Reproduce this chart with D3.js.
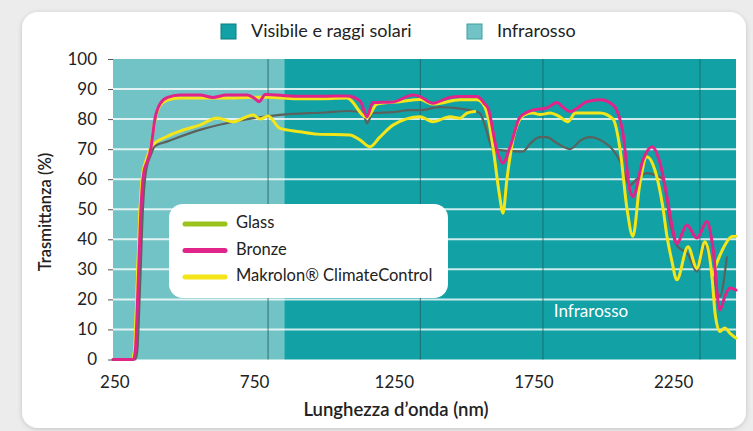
<!DOCTYPE html>
<html>
<head>
<meta charset="utf-8">
<script src="https://cdn.jsdelivr.net/npm/d3@7"></script>
<style>
  body { margin: 0; background: #ececec; }
  svg { display: block; }
  .tick text { font-family: Lato, "Open Sans", sans-serif; fill: #222; }
</style>
</head>
<body>
<div id="chart"></div>
<script>
// wavelength (nm), transmittance (%)
var bronze = [
  [245, 0], [318, 0], [325, 3], [335, 25], [345, 50], [355, 62], [368, 66], [380, 70],
  [395, 80], [413, 85], [440, 87.2], [485, 88], [556, 88], [603, 87.2], [650, 88],
  [725, 88], [750, 87], [768, 85.8], [790, 88.2], [900, 87.6], [1000, 87.6], [1082, 87.7],
  [1130, 86], [1154, 80.8], [1175, 85.5], [1247, 85.7], [1319, 88], [1344, 87.5],
  [1390, 85.3], [1450, 87.2], [1487, 87.5], [1548, 87.5], [1576, 85], [1587, 83.7],
  [1619, 69.7], [1641, 65.4], [1666, 70.7], [1702, 80.7], [1748, 83], [1798, 83.7],
  [1834, 85.5], [1855, 84], [1881, 82.5], [1942, 85.8], [1988, 86.4], [2035, 84.7],
  [2070, 75.4], [2095, 56.4], [2106, 54.2], [2142, 66.4], [2174, 70.8], [2203, 65.4],
  [2228, 54.2], [2249, 43], [2263, 38.5], [2299, 44.8], [2335, 40.4], [2371, 45.9],
  [2392, 37.5], [2417, 16.5], [2435, 20.9], [2453, 23.8], [2475, 23.1]
];

var climate = [
  [245, 0], [315, 0], [322, 3], [332, 25], [342, 50], [352, 62], [366, 66], [378, 69.7],
  [395, 79.5], [413, 84.5], [440, 86.3], [485, 87], [556, 87], [650, 87], [725, 87.2],
  [800, 87.3], [900, 86.8], [1000, 86.8], [1082, 87], [1154, 80.5], [1190, 85],
  [1272, 85.8], [1344, 86.5], [1390, 85], [1487, 86.4], [1548, 86.4], [1576, 84],
  [1587, 80.7], [1605, 70.8], [1628, 55], [1641, 48.7], [1655, 60], [1684, 76],
  [1719, 81.5], [1748, 82], [1773, 81.5], [1810, 82], [1840, 81], [1873, 79.1],
  [1900, 82], [1988, 82], [2035, 80], [2060, 70], [2085, 50], [2106, 41], [2130, 58],
  [2156, 67.5], [2185, 63], [2213, 50.8], [2228, 40.9], [2245, 33], [2263, 26.5],
  [2303, 37.5], [2335, 30.4], [2364, 39.2], [2389, 27.6], [2400, 15.5], [2417, 9.3],
  [2435, 10.5], [2453, 8.8], [2475, 7.1]
];

var climateLow = [
  [245, 0], [315, 0], [322, 3], [332, 25], [342, 50], [352, 62], [366, 67], [383, 71],
  [438, 74.2], [500, 76.5], [556, 78], [617, 80.4], [674, 79.1], [746, 81.4], [771, 80],
  [800, 81], [843, 76.9], [914, 75.8], [975, 75], [1093, 74.7], [1130, 73], [1165, 70.8],
  [1200, 74], [1247, 78], [1344, 80.8], [1390, 79.1], [1451, 80.8], [1487, 80.3],
  [1512, 82], [1540, 82.5],
  [1545, null],
  [2389, 27.6], [2410, 33], [2435, 38], [2460, 40.9], [2475, 41]
];

var glass = [
  [245, 0], [325, 0], [332, 3], [342, 25], [352, 50], [362, 62], [380, 68], [395, 71],
  [438, 72.5], [556, 76.4], [710, 79.7], [843, 81.4], [1000, 82.2], [1093, 82.7],
  [1140, 82], [1154, 78.6], [1175, 82], [1247, 82.3], [1308, 83], [1344, 83],
  [1415, 84], [1487, 83.5], [1523, 83], [1558, 82], [1576, 78], [1605, 70],
  [1630, 69.7], [1712, 69.2], [1740, 72], [1773, 74], [1798, 74], [1834, 72],
  [1881, 70], [1920, 73], [1952, 74], [2000, 72.5], [2035, 69.7], [2060, 66],
  [2095, 58], [2120, 60], [2156, 62], [2185, 61.4], [2213, 60], [2240, 45],
  [2263, 38], [2303, 35], [2335, 29.2], [2364, 38], [2392, 28], [2417, 21], [2442, 34]
];

var xTicks = [250, 750, 1250, 1750, 2250];
var yTicks = [0, 10, 20, 30, 40, 50, 60, 70, 80, 90, 100];
var gridY = [10, 20, 30, 40, 50, 60, 70, 80, 90];
var gridX = [800, 1345, 1784, 2346];
var bandEdges = [245, 858, 2475];
var topLegend = ["Visibile e raggi solari", "Infrarosso"];
var seriesNames = ["Glass", "Bronze", "Makrolon\u00ae ClimateControl"];

var W = 753, H = 431;
var svg = d3.select("#chart").append("svg")
  .attr("width", W)
  .attr("height", H);

var defs = svg.append("defs");
var shadow = defs.append("filter").attr("id", "shadow")
  .attr("x", "-5%").attr("y", "-5%").attr("width", "110%").attr("height", "110%");
shadow.append("feDropShadow")
  .attr("dx", 0).attr("dy", 1).attr("stdDeviation", 2.5)
  .attr("flood-color", "#000").attr("flood-opacity", 0.18);

// card
svg.append("rect")
  .attr("x", 22).attr("y", 12)
  .attr("width", 724).attr("height", 416)
  .attr("rx", 16)
  .attr("fill", "#fff")
  .attr("filter", "url(#shadow)");

var x = d3.scaleLinear().domain([245, 2475]).range([113, 736]);
var y = d3.scaleLinear().domain([0, 100]).range([359.5, 59]);

var plot = svg.append("g");

// background bands
var bandColors = ["#72c3c5", "#12a2a6"];
plot.selectAll("rect.band")
  .data(d3.pairs(bandEdges))
  .enter().append("rect")
  .attr("class", "band")
  .attr("x", function(d) { return x(d[0]); })
  .attr("width", function(d) { return x(d[1]) - x(d[0]); })
  .attr("y", y(100))
  .attr("height", y(0) - y(100))
  .attr("fill", function(d, i) { return bandColors[i]; });

// horizontal gridlines
plot.selectAll("line.gy")
  .data(gridY)
  .enter().append("line")
  .attr("x1", x(245)).attr("x2", x(2475))
  .attr("y1", function(d) { return y(d); })
  .attr("y2", function(d) { return y(d); })
  .attr("stroke", "#ffffff")
  .attr("stroke-opacity", 0.8)
  .attr("stroke-width", 2);

// vertical lines
plot.selectAll("line.gx")
  .data(gridX)
  .enter().append("line")
  .attr("x1", function(d) { return x(d); })
  .attr("x2", function(d) { return x(d); })
  .attr("y1", y(100)).attr("y2", y(0))
  .attr("stroke", "#1f5f62")
  .attr("stroke-opacity", 0.8)
  .attr("stroke-width", 1);

plot.append("text")
  .attr("x", x(1956)).attr("y", y(15.7))
  .attr("text-anchor", "middle")
  .attr("dominant-baseline", "middle")
  .attr("font-family", "Lato, sans-serif")
  .attr("font-size", 17)
  .attr("fill", "#fff")
  .text("Infrarosso");

// curves
var line = d3.line()
  .defined(function(d) { return d[1] != null; })
  .x(function(d) { return x(d[0]); })
  .y(function(d) { return y(d[1]); })
  .curve(d3.curveMonotoneX);

var curves = [
  {data: glass, color: "#5b615c", width: 2.2},
  {data: climateLow, color: "#f4e51a", width: 3},
  {data: climate, color: "#f4e51a", width: 3},
  {data: bronze, color: "#e0248a", width: 3}
];

plot.selectAll("path.curve")
  .data(curves)
  .enter().append("path")
  .attr("class", "curve")
  .attr("d", function(d) { return line(d.data); })
  .attr("fill", "none")
  .attr("stroke", function(d) { return d.color; })
  .attr("stroke-width", function(d) { return d.width; })
  .attr("stroke-linejoin", "round")
  .attr("stroke-linecap", "round");

// axes
var leftAxis = d3.axisLeft(y).tickValues(yTicks).tickSize(5).tickPadding(11);
var gy = svg.append("g")
  .attr("transform", "translate(" + x(245) + ",0)")
  .call(leftAxis);
gy.select(".domain").remove();
gy.selectAll(".tick line").attr("stroke", "#555");
gy.selectAll(".tick text").attr("font-size", 17);

var bottomAxis = d3.axisBottom(x).tickValues(xTicks).tickFormat(d3.format("d"))
  .tickSize(0).tickPadding(16);
var gx = svg.append("g")
  .attr("transform", "translate(0," + y(0) + ")")
  .call(bottomAxis);
gx.select(".domain").remove();
gx.selectAll(".tick text").attr("font-size", 17);

// axis titles
svg.append("text")
  .attr("transform", "translate(47," + 212 + ") rotate(-90)")
  .attr("text-anchor", "middle")
  .attr("dominant-baseline", "middle")
  .attr("font-family", "Lato, sans-serif")
  .attr("font-size", 16.5)
  .attr("font-weight", 600)
  .attr("fill", "#222")
  .text("Trasmittanza (%)");

svg.append("text")
  .attr("x", 396).attr("y", 411)
  .attr("text-anchor", "middle")
  .attr("dominant-baseline", "middle")
  .attr("font-family", "Lato, sans-serif")
  .attr("font-size", 18.5)
  .attr("font-weight", 600)
  .attr("fill", "#222")
  .text("Lunghezza d\u2019onda (nm)");

// top legend
var topLegendX = [221, 467];
var topFill = ["#12a2a6", "#72c3c5"];
var topStroke = ["#0b7d80", "#3d9fa2"];
var tl = svg.selectAll("g.tl")
  .data(topLegend)
  .enter().append("g")
  .attr("transform", function(d, i) { return "translate(" + topLegendX[i] + ",24)"; });
tl.append("rect")
  .attr("width", 15).attr("height", 15)
  .attr("fill", function(d, i) { return topFill[i]; })
  .attr("stroke", function(d, i) { return topStroke[i]; })
  .attr("stroke-width", 1);
tl.append("text")
  .attr("x", 30).attr("y", 8)
  .attr("dominant-baseline", "middle")
  .attr("font-family", "Lato, sans-serif")
  .attr("font-size", 18)
  .attr("fill", "#222")
  .text(function(d) { return d; });

// series legend box
svg.append("rect")
  .attr("x", 169).attr("y", 204)
  .attr("width", 279).attr("height", 94)
  .attr("rx", 14)
  .attr("fill", "#fff");

var legendColors = ["#9cc31c", "#e0248a", "#f4e51a"];
var lg = svg.selectAll("g.lg")
  .data(seriesNames)
  .enter().append("g")
  .attr("transform", function(d, i) { return "translate(185," + (224 + i * 26.5) + ")"; });
lg.append("line")
  .attr("x1", 0).attr("x2", 40)
  .attr("stroke", function(d, i) { return legendColors[i]; })
  .attr("stroke-width", 5)
  .attr("stroke-linecap", "round");
lg.append("text")
  .attr("x", 51).attr("y", 0)
  .attr("dominant-baseline", "middle")
  .attr("font-family", "Lato, sans-serif")
  .attr("font-size", 16.5)
  .attr("fill", "#222")
  .text(function(d) { return d; });
</script>
</body>
</html>
